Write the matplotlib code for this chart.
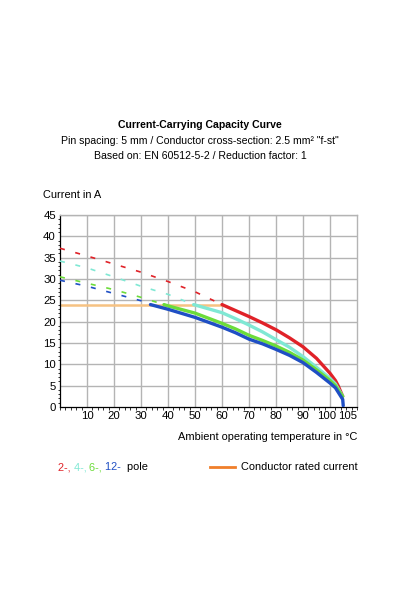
import matplotlib
matplotlib.use("Agg")
import matplotlib.pyplot as plt
from matplotlib.ticker import MultipleLocator
from matplotlib.offsetbox import TextArea, HPacker, AnchoredOffsetbox
import matplotlib.transforms as mtransforms

plt.rcParams['font.family'] = ['Liberation Sans', 'DejaVu Sans']

# ---- data ----
temp_2 = [0, 10, 20, 30, 40, 50, 60, 65, 70, 75, 80, 85, 90, 95, 100, 102, 103, 104.7]
cur_2 = [37.2, 35.4, 33.5, 31.6, 29.4, 27.0, 24.0, 22.6, 21.2, 19.7, 18.1, 16.2, 14.1, 11.4, 7.9, 6.2, 5.0, 2.5]
limit_2 = 60

temp_4 = [0, 10, 20, 30, 40, 49.5, 60, 65, 70, 75, 80, 85, 90, 95, 100, 102, 103, 104.7]
cur_4 = [34.2, 32.6, 30.5, 28.3, 26.4, 24.0, 22.1, 20.7, 19.2, 17.6, 15.8, 14.0, 11.8, 9.3, 6.7, 5.4, 4.3, 2.5]
limit_4 = 49.5

temp_6 = [0, 10, 20, 30, 38.5, 40, 50, 60, 65, 70, 75, 80, 85, 90, 95, 100, 102, 103, 104.7]
cur_6 = [30.5, 29.0, 27.5, 25.7, 24.0, 23.7, 22.0, 19.6, 18.3, 16.8, 15.6, 14.3, 12.8, 11.0, 8.7, 6.2, 5.0, 4.0, 2.5]
limit_6 = 38.5

temp_12 = [0, 10, 20, 30, 33.5, 40, 50, 60, 65, 70, 75, 80, 85, 90, 95, 100, 102, 103, 104.7, 104.9]
cur_12 = [29.7, 28.3, 26.6, 24.9, 24.0, 22.9, 21.0, 18.7, 17.4, 15.9, 14.8, 13.5, 12.1, 10.4, 8.1, 5.6, 4.5, 3.5, 1.8, 0.3]
limit_12 = 33.5

rated_temp = [0, 60]
rated_cur = [24, 24]

x_ticks = [10, 20, 30, 40, 50, 60, 70, 80, 90, 100, 105]
y_ticks = [0, 5, 10, 15, 20, 25, 30, 35, 40, 45]

series = [
    (temp_2, cur_2, limit_2, '#e02228'),
    (temp_4, cur_4, limit_4, '#80e8d4'),
    (temp_6, cur_6, limit_6, '#6cdc3a'),
    (temp_12, cur_12, limit_12, '#1f4fc4'),
]

FS = 7.6
FS2 = 7.95

fig = plt.figure(figsize=(4, 6), dpi=100)
ax = fig.add_axes([0.15, 0.3217, 0.7425, 0.32])

ax.set_xlim(0, 110)
ax.set_ylim(0, 45)

# grid
for gx in range(10, 110, 10):
    ax.axvline(gx, color='#b4b4b4', lw=1.0, zorder=0)
for gy in range(5, 50, 5):
    ax.axhline(gy, color='#b4b4b4', lw=1.0, zorder=0)

ax.plot(rated_temp, rated_cur, color='#f6c283', lw=1.8, zorder=2)

for t, c, lim, col in series:
    dt = [a for a in t if a <= lim]
    dc = [b for a, b in zip(t, c) if a <= lim]
    st = [a for a in t if a >= lim]
    sc = [b for a, b in zip(t, c) if a >= lim]
    ax.plot(dt, dc, color=col, lw=1.2, dashes=(3, 6.5), zorder=3)
    ax.plot(st, sc, color=col, lw=2.4, zorder=4, solid_capstyle='round', solid_joinstyle='round')

for side in ['top', 'right']:
    ax.spines[side].set_color('#b4b4b4')
    ax.spines[side].set_linewidth(1.0)
for side in ['left', 'bottom']:
    ax.spines[side].set_color('black')
    ax.spines[side].set_linewidth(0.9)

ax.set_xticks(x_ticks)
ax.set_xticklabels([str(v) for v in x_ticks])
ax.set_yticks(y_ticks)
ax.set_yticklabels([str(v) for v in y_ticks])
ax.xaxis.set_minor_locator(MultipleLocator(2))
ax.yaxis.set_minor_locator(MultipleLocator(1))
ax.tick_params(which='major', length=0, labelsize=8.2, pad=3)
ax.tick_params(which='minor', length=1.8, width=0.7, direction='out', color='#333333')

labels = ax.get_xticklabels()
labels[-2].set_transform(labels[-2].get_transform() + mtransforms.ScaledTranslation(-3/100, 0, fig.dpi_scale_trans))
labels[-1].set_transform(labels[-1].get_transform() + mtransforms.ScaledTranslation(4/100, 0, fig.dpi_scale_trans))

# titles
fig.text(0.5, 1 - 125/600, 'Current-Carrying Capacity Curve', ha='center', va='center',
         fontsize=FS, fontweight='bold')
fig.text(0.5, 1 - 141.5/600, 'Pin spacing: 5 mm / Conductor cross-section: 2.5 mm² "f-st"',
         ha='center', va='center', fontsize=FS)
fig.text(0.5, 1 - 156.5/600, 'Based on: EN 60512-5-2 / Reduction factor: 1',
         ha='center', va='center', fontsize=FS)

fig.text(43/400, 1 - 195/600, 'Current in A', ha='left', va='center', fontsize=FS2)
fig.text(357/400, 1 - 437/600, 'Ambient operating temperature in °C', ha='right', va='center',
         fontsize=FS2)

# legend: colored pole text
parts = [('2-, ', '#e02228'), ('4-, ', '#80e8d4'), ('6-, ', '#6cdc3a'), ('12- ', '#1f4fc4'), (' pole', 'black')]
boxes = [TextArea(s, textprops=dict(color=c, fontsize=FS2)) for s, c in parts]
pack = HPacker(children=boxes, align='baseline', pad=0, sep=0)
anch = AnchoredOffsetbox(loc='center left', child=pack, pad=0, frameon=False,
                         bbox_to_anchor=(58/400, 1 - 467/600), bbox_transform=fig.transFigure,
                         borderpad=0)
fig.add_artist(anch)

fig.add_artist(plt.Line2D([210/400, 235/400], [1 - 467/600, 1 - 467/600], color='#f07f2a', lw=2.0))
fig.text(241/400, 1 - 467/600, 'Conductor rated current', ha='left', va='center', fontsize=FS2)

fig.savefig('out.png', dpi=100)
